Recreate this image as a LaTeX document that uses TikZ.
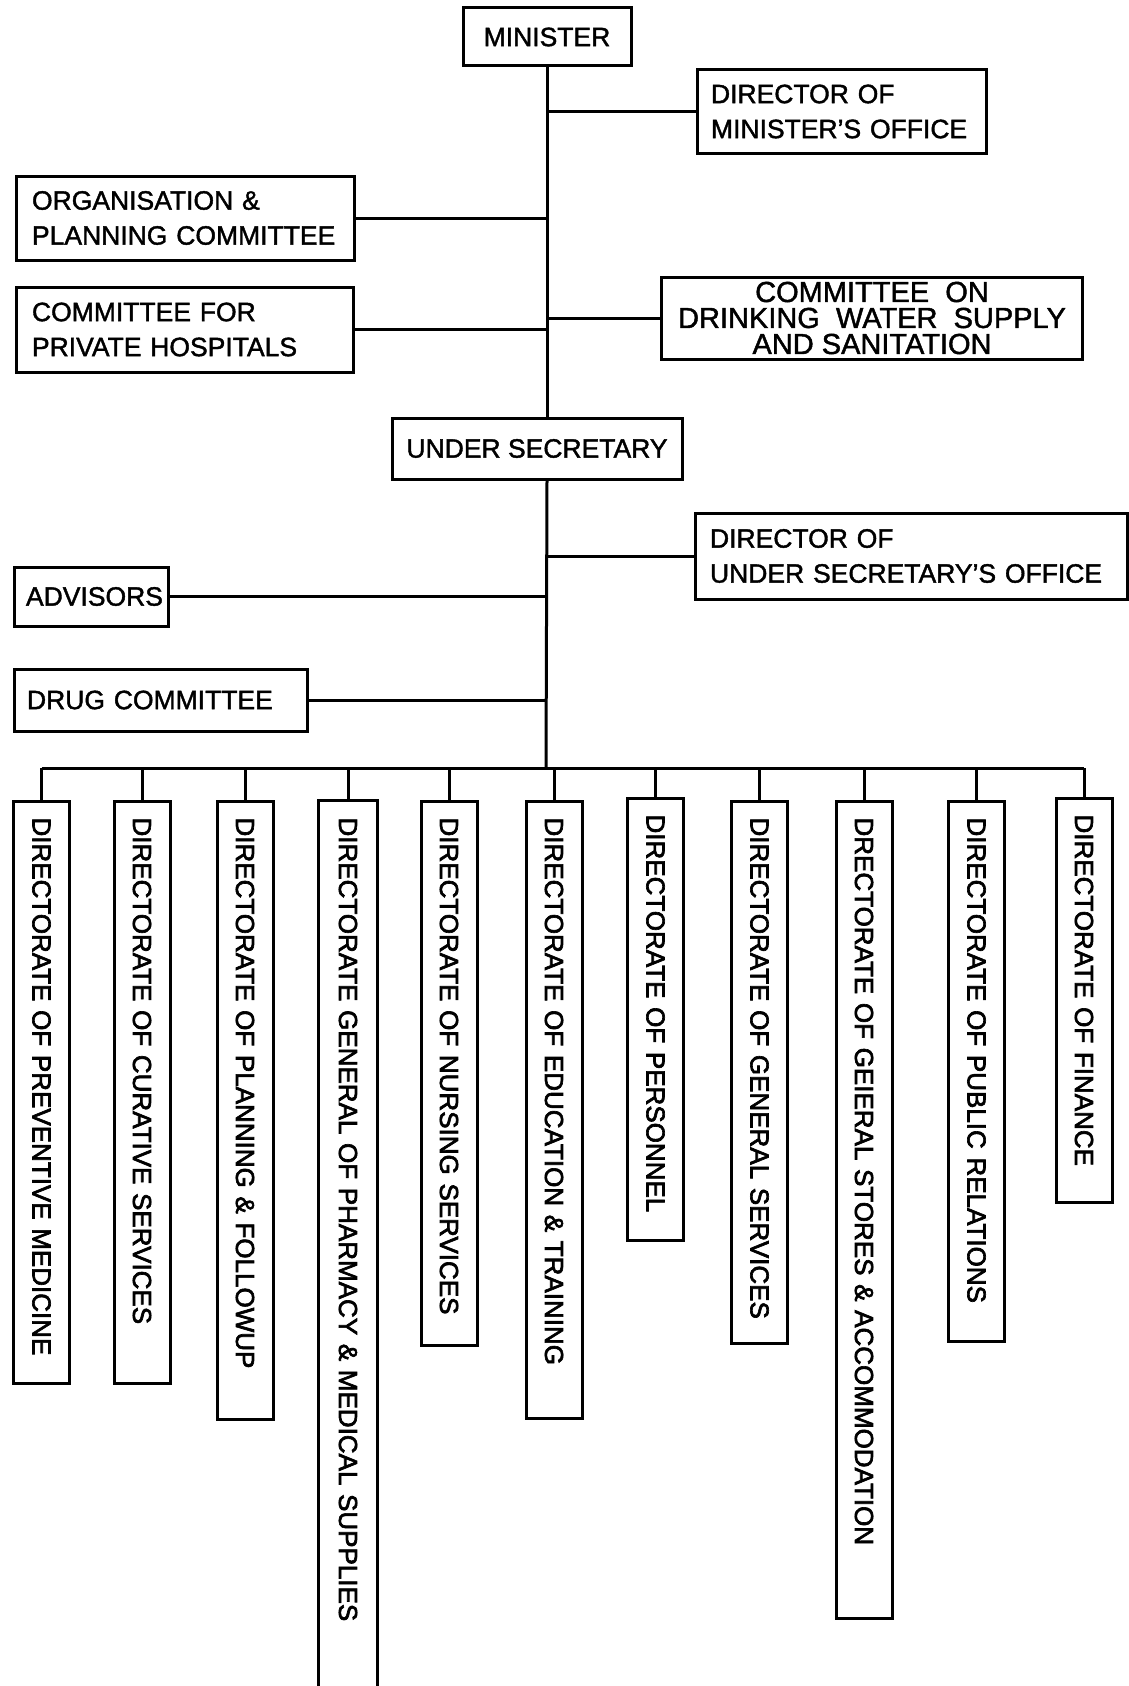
\documentclass[tikz,border=0pt]{standalone}
\usepackage{fontspec}
\setmainfont[FakeBold=1.5]{Liberation Sans}
\newfontfamily\heavy[FakeBold=2.5]{Liberation Sans}
\begin{document}
\begin{tikzpicture}[x=1pt,y=-1pt,line width=3pt,
  box/.style={draw,rectangle,inner sep=0pt,font=\fontsize{26.5}{35}\selectfont},
  lbox/.style={box,align=left,inner xsep=14pt},
  dirbox/.style={draw,rectangle,rotate=-90,anchor=west,minimum height=56pt,
    inner xsep=16pt,inner ysep=0pt,align=left,font=\heavy\fontsize{26}{26}\selectfont}]
\useasboundingbox (0,0) rectangle (1129,1686);
% top level
\node[box,minimum width=168pt,minimum height=58pt] (min) at (547,37) {MINISTER};
\node[lbox,text width=261pt,minimum height=83pt] (dmo) at (841.5,111.5) {DIRECTOR OF\\MINISTER'S OFFICE};
\node[lbox,text width=306pt,inner xsep=16pt,minimum height=84pt] (opc) at (185,218) {ORGANISATION \&\\PLANNING COMMITTEE};
\node[lbox,text width=305pt,inner xsep=16pt,minimum height=85pt] (cph) at (184.5,329.5) {COMMITTEE FOR\\PRIVATE HOSPITALS};
\node[box,align=center,minimum width=421pt,minimum height=82pt,font=\fontsize{29}{26}\selectfont] (cdw) at (872,318) {COMMITTEE\ \ ON\\DRINKING\ \ WATER\ \ SUPPLY\\AND SANITATION};
\node[box,minimum width=290pt,minimum height=61pt] (us) at (537,448.5) {UNDER SECRETARY};
\node[lbox,text width=402pt,inner xsep=15pt,minimum height=86pt] (duo) at (911,556) {DIRECTOR OF\\UNDER SECRETARY'S OFFICE};
\node[lbox,text width=130pt,inner xsep=12pt,minimum height=59pt] (adv) at (91,596.5) {ADVISORS};
\node[lbox,text width=267pt,inner xsep=13pt,minimum height=62pt] (drug) at (160.5,700) {DRUG COMMITTEE};
% spine
\coordinate (sp) at (546,768);
\draw (min.south) -- (min.south |- us.north);
\draw (us.south -| min.south) -- (sp);
\draw (dmo.west) -- (dmo.west -| min.south);
\draw (opc.east) -- (opc.east -| min.south);
\draw (cph.east) -- (cph.east -| min.south);
\draw (cdw.west) -- (cdw.west -| min.south);
\draw (duo.west) -- (duo.west -| sp);
\draw (adv.east) -- (adv.east -| sp);
\draw (drug.east) -- (drug.east -| sp);
% directorates
\node[dirbox,text width=550pt] (d1) at (41.5,800) {\mbox{DIRECTORATE OF PREVENTIVE MEDICINE}};
\node[dirbox,text width=550pt] (d2) at (142,800) {\mbox{DIRECTORATE OF CURATIVE SERVICES}};
\node[dirbox,text width=586pt] (d3) at (245,800) {\mbox{DIRECTORATE OF PLANNING \& FOLLOWUP}};
\node[dirbox,draw=none,text width=858pt] (d4) at (348,800) {\mbox{DIRECTORATE GENERAL OF PHARMACY \& MEDICAL SUPPLIES}};
\node[dirbox,text width=512pt] (d5) at (449,800) {\mbox{DIRECTORATE OF NURSING SERVICES}};
\node[dirbox,text width=585pt] (d6) at (554,800) {\mbox{DIRECTORATE OF EDUCATION \& TRAINING}};
\node[dirbox,text width=410pt] (d7) at (655.5,797) {\mbox{DIRECTORATE OF PERSONNEL}};
\node[dirbox,text width=510pt] (d8) at (759.5,800) {\mbox{DIRECTORATE OF GENERAL SERVICES}};
\node[dirbox,text width=785pt] (d9) at (864,800) {\mbox{DRECTORATE OF GEIERAL STORES \& ACCOMMODATION}};
\node[dirbox,text width=508pt] (d10) at (976.5,800) {\mbox{DIRECTORATE OF PUBLIC RELATIONS}};
\node[dirbox,text width=372pt] (d11) at (1084,797) {\mbox{DIRECTORATE OF FINANCE}};
\draw (d4.north east) -- (d4.north west) -- (d4.south west) -- (d4.south east);
% bus
\coordinate (bl) at (41.5,768);
\coordinate (br) at (1084,768);
\draw (bl) -- (br);
\foreach \n in {d1,d2,d3,d4,d5,d6,d7,d8,d9,d10,d11}
  \draw (\n.west) -- (\n.west |- sp);
\end{tikzpicture}
\end{document}
